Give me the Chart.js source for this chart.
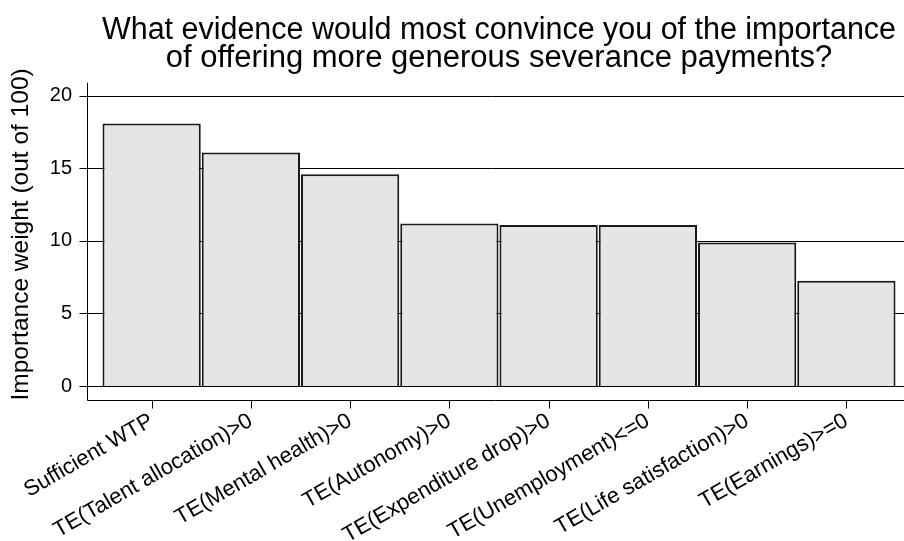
<!DOCTYPE html>
<html>
<head>
<meta charset="utf-8">
<script src="https://cdn.jsdelivr.net/npm/chart.js@4.4.1/dist/chart.umd.min.js"></script>
<style>
  html, body { margin: 0; padding: 0; background: #fff; }
  #wrap { width: 904px; height: 541px; }
</style>
</head>
<body>
<div id="wrap"><canvas id="evidenceChart"></canvas></div>
<script>
// Data
const categories = ['Sufficient WTP', 'TE(Talent allocation)>0', 'TE(Mental health)>0', 'TE(Autonomy)>0',
  'TE(Expenditure drop)>0', 'TE(Unemployment)<=0', 'TE(Life satisfaction)>0', 'TE(Earnings)>=0'];
const weights = [18.1, 16.1, 14.6, 11.2, 11.1, 11.1, 9.9, 7.25];
const yTicks = [0, 5, 10, 15, 20];

const FONT = '"Liberation Sans", Arial, Helvetica, sans-serif';

// Stata-like frame: grid lines, detached axes and tick marks
const stataFrame = {
  id: 'stataFrame',
  beforeDatasetsDraw(chart) {
    const { ctx, chartArea } = chart;
    const y = chart.scales.y, x = chart.scales.x;
    const axisX = chartArea.left - 14.5;
    const axisY = chartArea.bottom + 14.5;
    ctx.save();
    ctx.strokeStyle = '#000';
    ctx.lineWidth = 1;
    ctx.beginPath();
    yTicks.forEach(v => {
      const py = Math.round(y.getPixelForValue(v)) + 0.5;
      ctx.moveTo(axisX - 8, py);
      ctx.lineTo(chart.width, py);
    });
    // y axis
    ctx.moveTo(axisX, chartArea.top);
    ctx.lineTo(axisX, axisY);
    // x axis
    ctx.moveTo(axisX, axisY);
    ctx.lineTo(chart.width, axisY);
    categories.forEach((c, i) => {
      const px = Math.round(x.getPixelForValue(i)) + 0.5;
      ctx.moveTo(px, axisY);
      ctx.lineTo(px, axisY + 8);
    });
    ctx.stroke();
    ctx.restore();
  }
};

const config = {
  type: 'bar',
  data: {
    labels: categories,
    datasets: [{
      data: weights,
      backgroundColor: '#e5e5e5',
      borderColor: '#1a1a1a',
      borderWidth: 2,
      barPercentage: 0.99,
      categoryPercentage: 1.0
    }]
  },
  options: {
    responsive: true,
    maintainAspectRatio: false,
    animation: false,
    layout: { padding: { left: 0, right: 8, top: 0, bottom: 0 } },
    plugins: {
      legend: { display: false },
      tooltip: { enabled: false },
      title: {
        display: true,
        fullSize: false,
        text: ['What evidence would most convince you of the importance',
               'of offering more generous severance payments?'],
        color: '#000',
        font: { family: FONT, size: 31, weight: 'normal', lineHeight: 0.9 },
        padding: { top: 17, bottom: 10 }
      }
    },
    scales: {
      x: {
        grid: { display: false },
        border: { display: false },
        ticks: {
          color: '#000',
          font: { family: FONT, size: 22 },
          minRotation: 30,
          maxRotation: 30,
          padding: 14,
          autoSkip: false
        },
        afterFit(scale) { scale.height = 155; }
      },
      y: {
        min: 0,
        max: 20.9,
        grid: { display: false, drawTicks: false },
        border: { display: false },
        ticks: {
          stepSize: 5,
          includeBounds: false,
          color: '#000',
          font: { family: FONT, size: 20 },
          padding: 30
        },
        title: {
          display: true,
          text: 'Importance weight (out of 100)',
          color: '#000',
          font: { family: FONT, size: 24.5 },
          padding: { top: 7, bottom: 0 }
        },
        afterFit(scale) { scale.width = 102; }
      }
    }
  },
  plugins: [stataFrame]
};

const canvas = document.getElementById('evidenceChart');
var evidenceChart = new Chart(canvas, config);
</script>
</body>
</html>
